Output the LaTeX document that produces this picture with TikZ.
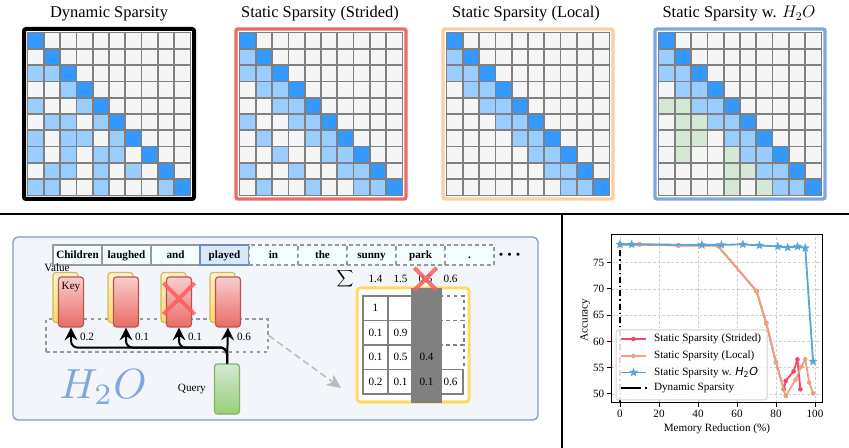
\documentclass[tikz,border=0pt]{standalone}
\usepackage{fontspec}
\setmainfont{Liberation Serif}
\newfontfamily\dejavu{DejaVu Sans}
\usetikzlibrary{positioning,arrows.meta,shapes.misc,shapes.geometric}

\definecolor{cellgray}{HTML}{F5F5F5}
\definecolor{celldark}{HTML}{3399FF}
\definecolor{celllight}{HTML}{99CCFF}
\definecolor{cellgreen}{HTML}{D5E8D4}
\definecolor{gridline}{HTML}{808080}
\definecolor{framered}{HTML}{EA6B66}
\definecolor{frameorange}{HTML}{FFCE9F}
\definecolor{frameblue}{HTML}{7EA6E0}
\definecolor{panelbg}{HTML}{F2F6FB}
\definecolor{panelline}{HTML}{7E9CCB}
\definecolor{tokfill}{HTML}{F3FCFF}
\definecolor{playfill}{HTML}{DAE8FC}
\definecolor{playline}{HTML}{6C8EBF}
\definecolor{keytop}{HTML}{F8CECC}
\definecolor{keybot}{HTML}{EA6B66}
\definecolor{keyline}{HTML}{B85450}
\definecolor{valtop}{HTML}{FFF2CC}
\definecolor{valbot}{HTML}{FFD966}
\definecolor{valline}{HTML}{D6B656}
\definecolor{qtop}{HTML}{D5E8D4}
\definecolor{qbot}{HTML}{97D077}
\definecolor{qline}{HTML}{82B366}
\definecolor{crossred}{HTML}{FF5C5C}
\definecolor{framey}{HTML}{FFD966}
\definecolor{plotred}{HTML}{F2466A}
\definecolor{plotorange}{HTML}{EBA27F}
\definecolor{plotblue}{HTML}{59A5D8}

\begin{document}
\begin{tikzpicture}[x=0.3mm,y=-0.3mm,
    cell/.style={draw=gridline,line width=0.5mm,fill=cellgray},
    frame/.style={rounded corners=0.6mm,line width=1mm},
    title/.style={font=\fontsize{14}{16}\selectfont},
    small/.style={font=\fontsize{9.5}{11}\selectfont},
    token/.style={draw=gray!80,line width=0.4mm,fill=tokfill,minimum width=14.7mm,minimum height=6mm,
      inner sep=0pt,outer sep=0pt,text height=1.6ex,text depth=.4ex,font=\fontsize{9.5}{11}\selectfont\bfseries},
    dtoken/.style={token,dashed},
    keycard/.style={draw=keyline,line width=0.35mm,rounded corners=0.9mm,top color=keytop,bottom color=keybot,
      minimum width=7.5mm,minimum height=15mm},
    valcard/.style={keycard,draw=valline,top color=valtop,bottom color=valbot},
    querycard/.style={keycard,draw=qline,top color=qtop,bottom color=qbot},
    wire/.style={line width=0.6mm,-{Stealth[length=3.8mm,width=3.8mm,inset=1.3mm]}},
    zoomarrow/.style={draw=gray!55,line width=0.45mm,dash pattern=on 2mm off 1.2mm,
      -{Stealth[length=4.2mm,width=3.8mm,inset=1.2mm,fill=gray!55]}},
    mcell/.style={draw=gridline,line width=0.45mm,fill=white,minimum width=7.5mm,minimum height=7.35mm,
      inner sep=0pt,outer sep=0pt,font=\fontsize{9.5}{11}\selectfont},
    strike/.style={cross out,draw=crossred,draw opacity=0.85,line width=1.2mm,minimum size=#1,inner sep=0pt},
    plotgrid/.style={draw=gray!40,line width=0.2mm,dash pattern=on 0.8mm off 0.6mm},
    redline/.style={draw=plotred,line width=0.55mm,line join=round},
    orangeline/.style={draw=plotorange,line width=0.55mm,line join=round},
    blueline/.style={draw=plotblue,line width=0.55mm,line join=round},
    bstar/.style={star,star points=5,star point ratio=2.4,fill=plotblue,inner sep=0pt,minimum size=2.9mm},
    dynline/.style={line width=0.6mm,dash pattern=on 1.8mm off 0.9mm on 0.4mm off 0.9mm}]
  \useasboundingbox (0,0) rectangle (849,448);

  % attention maps
  \begin{scope}[shift={(22,27)}]
    \draw[frame,draw=black,line width=1.2mm] (2,2) rectangle (172,172);
    \foreach \row in {0,...,9} \foreach \col in {0,...,9}
      \draw[cell] (5.5+16.3*\col,5.5+16.3*\row) rectangle +(16.3,16.3);
    \foreach \row/\col in {2/0,2/1,3/2,4/0,4/3,5/1,5/2,5/4,6/0,6/2,6/3,6/5,7/0,7/2,7/4,7/5,
        8/1,8/2,8/4,8/6,9/0,9/1,9/4,9/8}
      \draw[cell,fill=celllight] (5.5+16.3*\col,5.5+16.3*\row) rectangle +(16.3,16.3);
    \foreach \row in {0,...,9}
      \draw[cell,fill=celldark] (5.5+16.3*\row,5.5+16.3*\row) rectangle +(16.3,16.3);
  \end{scope}
  \begin{scope}[shift={(234,27)}]
    \draw[frame,draw=framered] (2,2) rectangle (172,172);
    \foreach \row in {0,...,9} \foreach \col in {0,...,9}
      \draw[cell] (5.5+16.3*\col,5.5+16.3*\row) rectangle +(16.3,16.3);
    \foreach \row/\col in {1/0,2/0,2/1,3/1,3/2,4/2,4/3,5/0,5/3,5/4,6/1,6/4,6/5,7/2,7/5,7/6,
        8/0,8/3,8/6,8/7,9/1,9/4,9/7,9/8}
      \draw[cell,fill=celllight] (5.5+16.3*\col,5.5+16.3*\row) rectangle +(16.3,16.3);
    \foreach \row in {0,...,9}
      \draw[cell,fill=celldark] (5.5+16.3*\row,5.5+16.3*\row) rectangle +(16.3,16.3);
  \end{scope}
  \begin{scope}[shift={(441,27)}]
    \draw[frame,draw=frameorange] (2,2) rectangle (172,172);
    \foreach \row in {0,...,9} \foreach \col in {0,...,9}
      \draw[cell] (5.5+16.3*\col,5.5+16.3*\row) rectangle +(16.3,16.3);
    \foreach \row/\col in {1/0,2/0,2/1,3/1,3/2,4/2,4/3,5/3,5/4,6/4,6/5,7/5,7/6,8/6,8/7,9/7,9/8}
      \draw[cell,fill=celllight] (5.5+16.3*\col,5.5+16.3*\row) rectangle +(16.3,16.3);
    \foreach \row in {0,...,9}
      \draw[cell,fill=celldark] (5.5+16.3*\row,5.5+16.3*\row) rectangle +(16.3,16.3);
  \end{scope}
  \begin{scope}[shift={(653,27)}]
    \draw[frame,draw=frameblue] (2,2) rectangle (172,172);
    \foreach \row in {0,...,9} \foreach \col in {0,...,9}
      \draw[cell] (5.5+16.3*\col,5.5+16.3*\row) rectangle +(16.3,16.3);
    \foreach \row/\col in {1/0,2/0,2/1,3/1,3/2,4/2,4/3,5/3,5/4,6/4,6/5,7/5,7/6,8/6,8/7,9/7,9/8}
      \draw[cell,fill=celllight] (5.5+16.3*\col,5.5+16.3*\row) rectangle +(16.3,16.3);
    \foreach \row/\col in {4/0,4/1,5/1,5/2,6/1,6/2,7/1,7/4,8/4,8/5,9/4,9/6}
      \draw[cell,fill=cellgreen] (5.5+16.3*\col,5.5+16.3*\row) rectangle +(16.3,16.3);
    \foreach \row in {0,...,9}
      \draw[cell,fill=celldark] (5.5+16.3*\row,5.5+16.3*\row) rectangle +(16.3,16.3);
  \end{scope}
  \node[title] (t1) at (109,14) {Dynamic Sparsity};
  \node[title] (t2) at (320,14) {Static Sparsity (Strided)};
  \node[title] (t3) at (526,14) {Static Sparsity (Local)};
  \node[title] (t4) at (739,14) {Static Sparsity w. $H_2O$};

  \draw[line width=0.45mm] (0,214) -- (849,214);
  \draw[line width=0.45mm] (562,214) -- (562,448);

  % H2O panel
  \draw[fill=panelbg,draw=panelline,line width=0.4mm,rounded corners=1.5mm] (13,237) rectangle (538,420);
  \node[token] (w1) at (77.5,255) {Children};
  \node[token,right=0pt of w1] (w2) {laughed};
  \node[token,right=0pt of w2] (w3) {and};
  \node[token,right=0pt of w3,fill=playfill,draw=playline] (w4) {played};
  \node[dtoken,right=0pt of w4] (w5) {in};
  \node[dtoken,right=0pt of w5] (w6) {the};
  \node[dtoken,right=0pt of w6] (w7) {sunny};
  \node[dtoken,right=0pt of w7] (w8) {park};
  \node[dtoken,right=0pt of w8] (w9) {.};
  \node[font=\fontsize{6}{7}\selectfont,right=0.2mm of w9] (more) {$\bullet\mkern4mu\bullet\mkern4mu\bullet$};

  \node[draw=gray!80,dashed,line width=0.4mm,minimum width=66.6mm,minimum height=9.9mm] (win) at (157,335.5) {};

  \node[valcard] (v1) at (65.5,297.5) {};
  \node[keycard] (k1) at (71,302) {};
  \node[valcard] (v2) at (120.5,297.5) {};
  \node[keycard] (k2) at (126,302) {};
  \node[valcard] (v3) at (173.5,297.5) {};
  \node[keycard] (k3) at (179,302) {};
  \node[valcard] (v4) at (222.5,297.5) {};
  \node[keycard] (k4) at (228,302) {};
  \node[small] (vlab) at (57,268) {Value};
  \node[small,below=0.4mm of k1.north] (klab) {Key};
  \node[strike=8.2mm] (drop) at ([yshift=1mm]k3.center) {};

  \node[querycard] (q) at (227,389) {};
  \node[small,left=1.2mm of q] (qlab) {Query};
  \draw[wire] (q.north) -- (k4.south);
  \foreach \k in {1,2,3}
    \draw[wire,rounded corners=2mm] (q.north) |- ([yshift=-6mm]k\k.south) -- (k\k.south);
  \node[small] (a1) at ([xshift=4.8mm,yshift=-2.7mm]k1.south) {0.2};
  \node[small] (a2) at ([xshift=4.8mm,yshift=-2.7mm]k2.south) {0.1};
  \node[small] (a3) at ([xshift=4.8mm,yshift=-2.7mm]k3.south) {0.1};
  \node[small] (a4) at ([xshift=4.8mm,yshift=-2.7mm]k4.south) {0.6};

  \node[text=frameblue,scale=3.6] (logo) at (103,387) {$H_2O$};

  % accumulated scores
  \draw[draw=framey,fill=white,line width=0.9mm,rounded corners=1mm] (357,288) rectangle (469,402);
  \foreach \row/\col/\val in {0/0/1,0/1/{},1/0/0.1,1/1/0.9,2/0/0.1,2/1/0.5,3/0/0.2,3/1/0.1,3/3/0.6}
    \node[mcell] (m\row\col) at (375.5+25*\col,308.25+24.5*\row) {\val};
  \foreach \row in {0,1,2}
    \node[mcell,dashed,fill=none] (m\row3) at (451.5,308.25+24.5*\row) {};
  \fill[gridline] (411,288) rectangle (442,403);
  \node[small] (m22) at (426.5,357.25) {0.4};
  \node[small] (m32) at (426.5,381.75) {0.1};
  \node (sum) at (345,279) {$\displaystyle\sum$};
  \foreach \col/\s in {0/1.4,1/1.5,2/0.5,3/0.6}
    \node[small] (s\col) at (375.5+25*\col,279) {\s};
  \node[strike=5.5mm] (evict) at (s2) {};
  \coordinate (zoomtip) at (341,388);
  \draw[zoomarrow] (win.east) -- (zoomtip);

  % accuracy plot
  \begin{scope}[shift={(620,656.5)},x=0.585mm,y=1.575mm]
    \foreach \gx in {0,20,...,100}
      \draw[plotgrid] (\gx,48.3) -- (\gx,80.3);
    \foreach \gy in {50,55,...,75}
      \draw[plotgrid] (-4.6,\gy) -- (104,\gy);
    \draw[line width=0.3mm] (-4.6,48.3) rectangle (104,80.3);
    \foreach \gx in {0,20,...,100}
      \draw[line width=0.3mm] (\gx,48.3) -- ++(0mm,-1.2mm) node[small,below,inner sep=0.7mm] {\gx};
    \foreach \gy in {50,55,...,75}
      \draw[line width=0.3mm] (-4.6,\gy) -- ++(-1.2mm,0mm) node[small,left,inner sep=0.7mm] {\gy};
    \node[small,rotate=90] (ylab) at (-17.9,64.1) {Accuracy};
    \node[small] (xlab) at (49.7,43.3) {Memory Reduction (\%)};
    \draw[dynline] (0,48.3) -- (0,78.5);
    \draw[redline] plot coordinates {(0,78.5) (10,78.5) (30,78.3) (50,78.3) (70,69.6) (75,63.5) (80,56)
      (84,50.9) (85,52.5) (89,54.3) (91,56.6) (92.5,50.9)};
    \foreach \dx/\dy in {0/78.5,10/78.5,30/78.3,50/78.3,70/69.6,75/63.5,80/56,84/50.9,85/52.5,89/54.3,91/56.6,92.5/50.9}
      \fill[plotred] (\dx,\dy) circle (0.7mm);
    \draw[orangeline] plot coordinates {(0,78.5) (10,78.5) (30,78.3) (50,78.3) (70,69.6) (75,63.5) (80,56)
      (85,49.6) (90,52.7) (93,55.2) (95,56.6) (97,52.2) (99,50.1)};
    \foreach \dx/\dy in {0/78.5,10/78.5,30/78.3,50/78.3,70/69.6,75/63.5,80/56,85/49.6,90/52.7,93/55.2,95/56.6,97/52.2,99/50.1}
      \fill[plotorange] (\dx,\dy) circle (0.7mm);
    \draw[blueline] plot coordinates {(0,78.5) (6,78.5) (42,78.4) (52,78.4) (63,78.5) (71.5,78.3) (81,78.1)
      (86,77.9) (91,78.1) (95,77.8) (99,56.2)};
    \foreach \dx/\dy in {0/78.5,6/78.5,42/78.4,52/78.4,63/78.5,71.5/78.3,81/78.1,86/77.9,91/78.1,95/77.8,99/56.2}
      \node[bstar] at (\dx,\dy) {};
  \end{scope}

  % legend
  \draw[fill=white,fill opacity=0.85,draw=gray!35,line width=0.3mm,rounded corners=0.8mm] (616,330) rectangle (767,400);
  \draw[redline] (621,339) -- (646,339);
  \fill[plotred] (633.5,339) circle (0.7mm);
  \node[small,anchor=west] (leg1) at (650,339) {Static Sparsity (Strided)};
  \draw[orangeline] (621,356) -- (646,356);
  \fill[plotorange] (633.5,356) circle (0.7mm);
  \node[small,anchor=west] (leg2) at (650,356) {Static Sparsity (Local)};
  \draw[blueline] (621,372.5) -- (646,372.5);
  \node[bstar] at (633.5,372.5) {};
  \node[small,anchor=west] (leg3) at (650,372.5) {Static Sparsity w. {\dejavu\itshape H}{\dejavu\textsubscript{2}}{\dejavu\itshape O}};
  \draw[line width=0.6mm,dash pattern=on 6mm off 1.2mm on 0.6mm off 1mm] (621,388.5) -- (648,388.5);
  \node[small,anchor=west] (leg4) at (650,388.5) {Dynamic Sparsity};
\end{tikzpicture}
\end{document}
